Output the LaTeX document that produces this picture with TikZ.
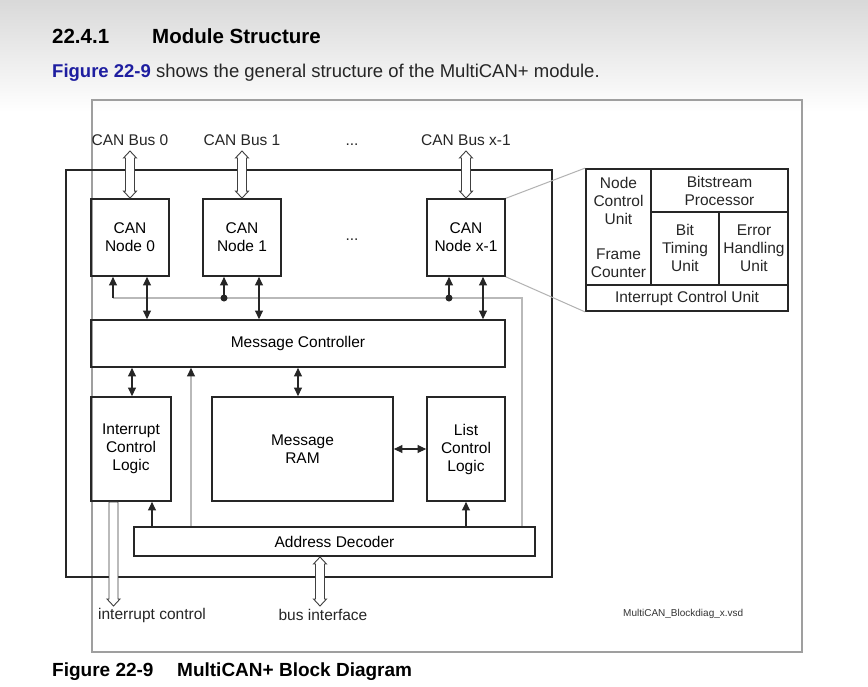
\documentclass[tikz,border=0pt]{standalone}
\usepackage{fontspec}
\setmainfont{Liberation Sans}
\usetikzlibrary{arrows.meta,calc}
\definecolor{figblue}{HTML}{1E1EA0}
\newcommand\dgfont{\fontsize{15.5}{18}\selectfont}
\begin{document}
\begin{tikzpicture}[x=1pt,y=-1pt,
  blk/.style={draw=black!85, line width=1.8pt, inner sep=0pt, align=center, font=\dgfont},
  txt/.style={inner sep=0pt, align=center, font=\dgfont, text=black!85},
  arr/.style={line width=1.1pt, draw=black!85, -{Triangle[length=8.5pt,width=8pt]}},
  dbl/.style={line width=1.1pt, draw=black!85, {Triangle[length=8.5pt,width=8pt]}-{Triangle[length=8.5pt,width=8pt]}},
  greyl/.style={draw=gray!55, line width=1.3pt},
  dot/.style={circle, fill=black!85, inner sep=0pt, minimum size=7pt},
  hol2/.style={draw=black!75, line width=0.9pt, fill=white,
    to path={let \p1=(\tikztostart), \p2=(\tikztotarget) in
      (\x1,\y1) -- (\x1+6.5pt,\y1-7pt) -- (\x1+4.5pt,\y1-7pt) -- (\x1+4.5pt,\y2+7pt)
      -- (\x1+6.5pt,\y2+7pt) -- (\x1,\y2) -- (\x1-6.5pt,\y2+7pt) -- (\x1-4.5pt,\y2+7pt)
      -- (\x1-4.5pt,\y1-7pt) -- (\x1-6.5pt,\y1-7pt) -- cycle}},
  hol1/.style={draw=black!75, line width=0.9pt, fill=white,
    to path={let \p1=(\tikztostart), \p2=(\tikztotarget) in
      (\x1-4.5pt,\y1) -- (\x1+4.5pt,\y1) -- (\x1+4.5pt,\y2+7pt) -- (\x1+6.5pt,\y2+7pt)
      -- (\x1,\y2) -- (\x1-6.5pt,\y2+7pt) -- (\x1-4.5pt,\y2+7pt) -- cycle}}
]
\useasboundingbox (0,0) rectangle (868,686);
\fill[white] (0,0) rectangle (868,686);
\shade[top color=gray!30, bottom color=white] (0,0) rectangle (868,112);

% page text
\node[anchor=base west, inner sep=0pt, font=\bfseries\fontsize{20.5}{24}\selectfont] (h1) at (52,43) {22.4.1};
\node[anchor=base west, inner sep=0pt, font=\bfseries\fontsize{20.5}{24}\selectfont] (h2) at (152,43) {Module Structure};
\node[anchor=base west, inner sep=0pt, font=\fontsize{18.5}{22}\selectfont, text=black!85] (sub) at (52,77)
  {\textcolor{figblue}{\bfseries Figure 22-9} shows the general structure of the MultiCAN+ module.};
\node[anchor=base west, inner sep=0pt, font=\bfseries\fontsize{19}{22}\selectfont] (cap1) at (52,676) {Figure 22-9};
\node[anchor=base west, inner sep=0pt, font=\bfseries\fontsize{19}{22}\selectfont] (cap2) at (177,676) {MultiCAN+ Block Diagram};

% figure frame
\draw[draw=gray!75, line width=1.3pt] (92,100) rectangle (802,652);
\node[anchor=base west, inner sep=0pt, font=\fontsize{10}{12}\selectfont, text=black!80] (fname) at (623,616) {MultiCAN\_Blockdiag\_x.vsd};

% module box
\node[blk, minimum width=486, minimum height=407] (mod) at (309,373.5) {};

% detail of a CAN node (zoom lines drawn below the node boxes)
\node[blk, minimum width=202, minimum height=142] (det) at (687,240) {};
\coordinate (nxne) at (504,199);
\coordinate (nxse) at (504,276);
\draw[draw=gray!60, line width=1pt] (nxne) -- (det.north west);
\draw[draw=gray!60, line width=1pt] (nxse) -- (det.south west);

% CAN nodes
\node[blk, minimum width=78, minimum height=77] (n0) at (130,237.5) {CAN\\Node 0};
\node[blk, minimum width=78, minimum height=77] (n1) at (242,237.5) {CAN\\Node 1};
\node[blk, minimum width=78, minimum height=77] (nx) at (466,237.5) {CAN\\Node x-1};
\node[txt] (dots2) at (352,240) {...};

% bus labels
\node[txt, anchor=base] (bus0) at (130,145) {CAN Bus 0};
\node[txt, anchor=base] (bus1) at (242,145) {CAN Bus 1};
\node[txt, anchor=base] (busx) at (466,145) {CAN Bus x-1};
\node[txt, anchor=base] (dots1) at (352,145) {...};
\coordinate (b0t) at (130,151);
\coordinate (b1t) at (242,151);
\coordinate (bxt) at (466,151);

% other blocks
\node[blk, minimum width=414, minimum height=47] (mc) at (298,343.5) {Message Controller};
\node[blk, minimum width=80, minimum height=104] (icl) at (131,449) {Interrupt\\Control\\Logic};
\node[blk, minimum width=181, minimum height=104] (ram) at (302.5,449) {Message\\RAM};
\node[blk, minimum width=78, minimum height=104] (lcl) at (466,449) {List\\Control\\Logic};
\node[blk, minimum width=401, minimum height=29] (ad) at (334.5,541.5) {Address Decoder};

% grey control line from address decoder to CAN nodes
\coordinate (g0) at (113,298);
\coordinate (gR) at (522,298);
\coordinate (j1) at (224,298);
\coordinate (j2) at (449,298);
\draw[greyl] (g0) -- (gR) -- (522,0 |- ad.north);
\draw[arr] (g0) -- (113,0 |- n0.south);
\draw[arr] (j1) -- (224,0 |- n1.south);
\draw[arr] (j2) -- (449,0 |- nx.south);
\node[dot] (dj1) at (j1) {};
\node[dot] (dj2) at (j2) {};

% nodes <-> message controller
\draw[dbl] (147,0 |- n0.south) -- (147,0 |- mc.north);
\draw[dbl] (259,0 |- n1.south) -- (259,0 |- mc.north);
\draw[dbl] (483,0 |- nx.south) -- (483,0 |- mc.north);

% message controller <-> blocks
\draw[dbl] (132,0 |- mc.south) -- (132,0 |- icl.north);
\draw[dbl] (298,0 |- mc.south) -- (298,0 |- ram.north);
\draw[dbl] (ram.east) -- (lcl.west);

% address decoder outputs
\draw[greyl, -{Triangle[length=8.5pt,width=8pt,color=black!85]}] (191,0 |- ad.north) -- (191,0 |- mc.south);
\draw[arr] (152,0 |- ad.north) -- (152,0 |- icl.south);
\draw[arr] (ad.north -| lcl.south) -- (lcl.south);

% hollow bus arrows
\draw[hol2] (b0t) to (n0.north);
\draw[hol2] (b1t) to (n1.north);
\draw[hol2] (bxt) to (nx.north);
\coordinate (bi1) at (320,557);
\coordinate (bi2) at (320,606);
\draw[hol2] (bi1) to (bi2);
\coordinate (ic1) at (113.5,502);
\coordinate (ic2) at (113.5,606);
\draw[hol1] (ic1) to (ic2);
\node[txt] (iclab) at (152,615) {interrupt control};
\node[txt] (bilab) at (323,615) {bus interface};

% detail internals
\draw[draw=black!85, line width=1.8pt] (651,169) -- (651,285);
\draw[draw=black!85, line width=1.8pt] (651,212) -- (788,212);
\draw[draw=black!85, line width=1.8pt] (719,212) -- (719,285);
\draw[draw=black!85, line width=1.8pt] (586,285) -- (788,285);
\node[txt] (ncu) at (618.5,201) {Node\\Control\\Unit};
\node[txt] (fcnt) at (618.5,263.5) {Frame\\Counter};
\node[txt] (bsp) at (719.5,191) {Bitstream\\Processor};
\node[txt] (btu) at (685,248) {Bit\\Timing\\Unit};
\node[txt] (ehu) at (754,248) {Error\\Handling\\Unit};
\node[txt] (icu) at (687,298) {Interrupt Control Unit};
\end{tikzpicture}
\end{document}
